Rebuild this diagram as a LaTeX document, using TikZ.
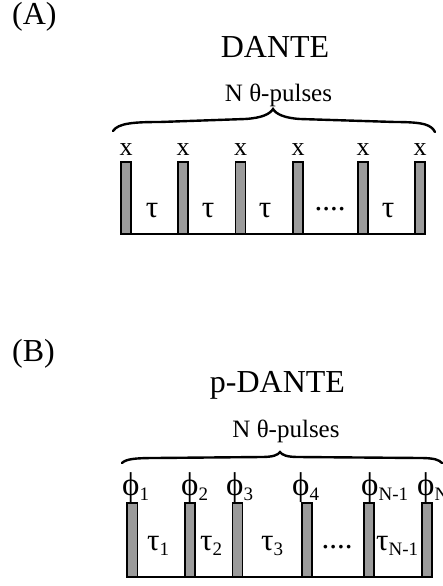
\documentclass[tikz,border=0pt]{standalone}
\usepackage{fontspec}
\setmainfont{Liberation Serif}
\definecolor{pulsegray}{RGB}{155,155,155}
\tikzset{
  pulse/.style={draw=black, line width=1.3pt, fill=pulsegray},
  axisline/.style={line width=2pt, line cap=butt},
  brace/.style={line width=2.4pt, line cap=round},
  titletext/.style={font=\fontsize{32}{32}\selectfont, inner sep=0pt},
  captext/.style={font=\fontsize{25}{25}\selectfont, inner sep=0pt},
  lbl/.style={font=\fontsize{31}{31}\selectfont, inner sep=0pt},
  philbl/.style={font=\fontsize{33}{33}\selectfont, inner sep=0pt, anchor=base west},
  xlbl/.style={font=\fontsize{26}{26}\selectfont, inner sep=0pt, anchor=base},
}
\newcommand{\sbs}[1]{\raisebox{-5.5pt}{\fontsize{19}{19}\selectfont #1}}
\begin{document}
\begin{tikzpicture}[x=1pt,y=-1pt]
\useasboundingbox (0,0) rectangle (443,586);

% ---------- (A) DANTE ----------
\node[titletext, anchor=base west] (labA) at (12,25) {(A)};
\node[titletext, anchor=base] (titA) at (275,58) {DANTE};
\node[captext, anchor=base] (capA) at (278.5,101) {N θ-pulses};
\draw[brace] (113,131) .. controls (118,123) and (135,122) .. (160,122)
  -- (245,119) .. controls (262,118) and (270,114) .. (273,109)
  .. controls (276,114) and (284,118) .. (300,119)
  -- (395,122) .. controls (425,122) and (431,125) .. (435,132);

\foreach \l/\r [count=\i] in {121/131, 178/188, 235.5/245.5, 293/303, 358/368, 415/425}{
  \draw[pulse] (\l,162) rectangle (\r,234);
  \node[xlbl] (xA\i) at ({(\l+\r)/2},155) {x};
}
\draw[axisline] (120,234) -- (425,234);
\foreach \c [count=\i] in {152,208,265,388}
  \node[lbl, anchor=base] (tA\i) at (\c,217) {τ};
\node[lbl, anchor=base] (dotsA) at (330,210) {....};

% ---------- (B) p-DANTE ----------
\node[titletext, anchor=base west] (labB) at (12,361) {(B)};
\node[titletext, anchor=base] (titB) at (277.5,392) {p-DANTE};
\node[captext, anchor=base] (capB) at (286,437) {N θ-pulses};
\draw[brace] (122,463) .. controls (126,459) and (135,458) .. (155,458)
  -- (262,457) .. controls (273,457) and (278,455) .. (280,452)
  .. controls (282,455) and (287,457) .. (298,457)
  -- (420,458) .. controls (435,458) and (439,460) .. (442,463);

\foreach \l/\r in {127/137.5, 185/195, 232.5/242.5, 302/312, 364/374, 422/432}
  \draw[pulse] (\l,503) rectangle (\r,577);
\draw[axisline] (126,577) -- (433,577);

\node[philbl] (pB1) at (122,495) {ϕ\sbs{1}};
\node[philbl] (pB2) at (181,495) {ϕ\sbs{2}};
\node[philbl] (pB3) at (226,495) {ϕ\sbs{3}};
\node[philbl] (pB4) at (292,495) {ϕ\sbs{4}};
\node[philbl] (pB5) at (361,495) {ϕ\sbs{N-1}};
\node[philbl] (pB6) at (417,495) {ϕ\sbs{N}};

\node[lbl, anchor=base west] (tB1) at (147,550) {τ\sbs{1}};
\node[lbl, anchor=base west] (tB2) at (200,550) {τ\sbs{2}};
\node[lbl, anchor=base west] (tB3) at (261,550) {τ\sbs{3}};
\node[lbl, anchor=base west] (tB4) at (376,550) {τ\sbs{N-1}};
\node[lbl, anchor=base] (dotsB) at (337,548) {....};
\end{tikzpicture}
\end{document}
